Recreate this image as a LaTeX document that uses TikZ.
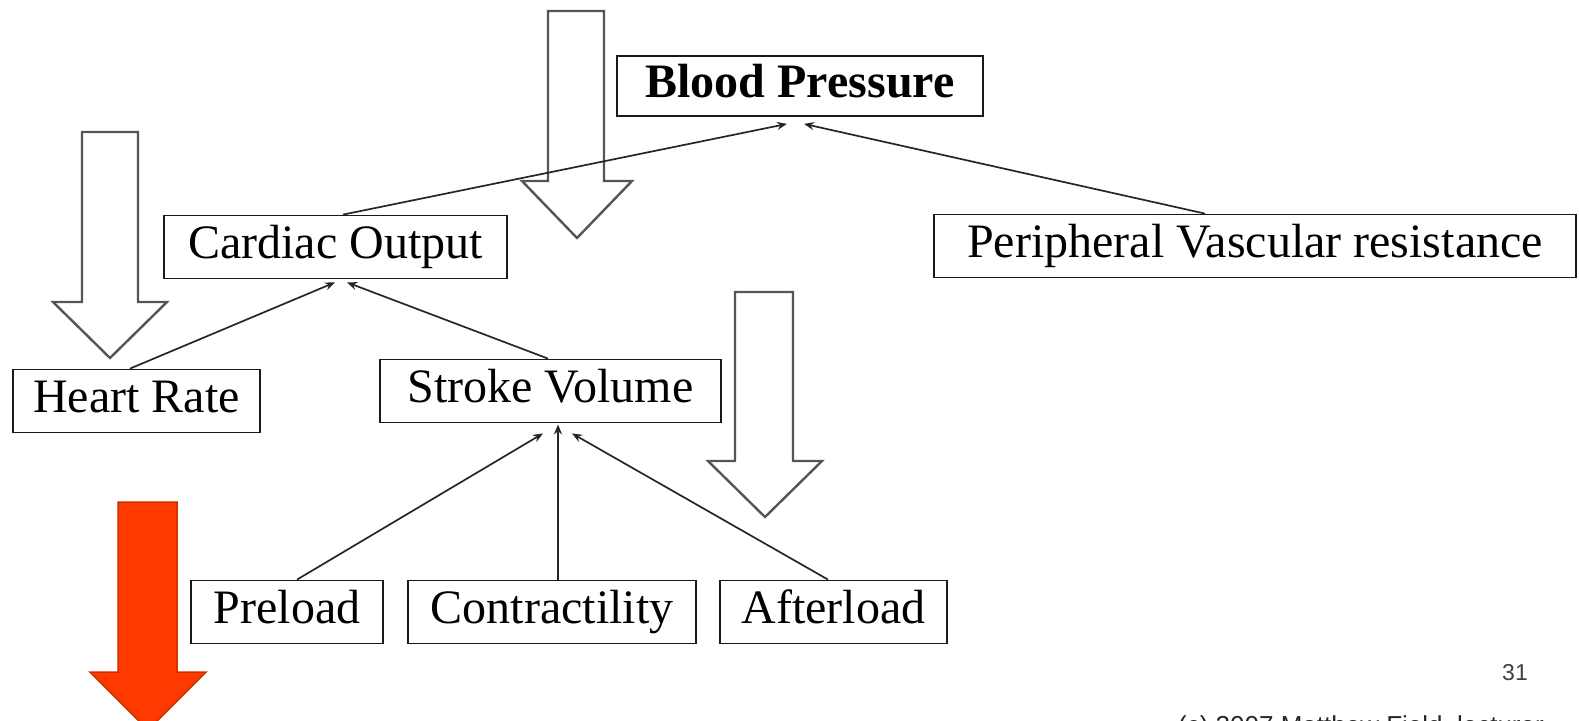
\documentclass[tikz,border=0pt]{standalone}
\usepackage{fontspec}
\setmainfont{Liberation Serif}
\newfontfamily\notefont{Liberation Sans}
\usetikzlibrary{arrows.meta}
\definecolor{arrowgray}{RGB}{85,85,85}
\definecolor{redfill}{RGB}{255,58,0}
\definecolor{redline}{RGB}{205,45,0}
\tikzset{
  box/.style={draw=black!90, line width=1.8pt, fill=white, inner xsep=0pt, inner ysep=0pt,
    minimum height=63pt, text height=33pt, text depth=10pt,
    font=\fontsize{48}{56}\selectfont},
  conn/.style={line width=1.7pt, draw=black!85, -{Stealth[length=10pt,width=8pt]}},
  hollow/.style={draw=arrowgray, line width=2.4pt, fill=white, line join=miter},
  redarrow/.style={draw=redline, line width=1.5pt, fill=redfill, line join=miter}
}
\begin{document}
\begin{tikzpicture}[x=1pt,y=-1pt]
\useasboundingbox (0,0) rectangle (1579,720);
\clip (0,0) rectangle (1579,720);
% big hollow arrows
\draw[hollow] (548,11) -- (604,11) -- (604,181) -- (632,181) -- (577,238) -- (522,181) -- (548,181) -- cycle;
\draw[hollow] (82,132) -- (138,132) -- (138,302) -- (167,302) -- (110,358) -- (53,302) -- (82,302) -- cycle;
\draw[hollow] (735,292) -- (793,292) -- (793,461) -- (822,461) -- (765,517) -- (708,461) -- (735,461) -- cycle;
\draw[redarrow] (118,502) -- (177,502) -- (177,672) -- (206,672) -- (148,730) -- (90,672) -- (118,672) -- cycle;
% nodes
\node[box, minimum width=366pt, minimum height=60pt, font=\fontsize{48}{56}\selectfont\bfseries] (bp) at (800,86) {Blood Pressure};
\node[box, minimum width=343pt] (co) at (335.5,247) {Cardiac Output};
\node[box, minimum width=642pt] (pvr) at (1255,246) {Peripheral Vascular resistance};
\node[box, minimum width=247pt] (hr) at (136.5,401) {Heart Rate};
\node[box, minimum width=341pt] (sv) at (550.5,391) {Stroke Volume};
\node[box, minimum width=192pt] (pre) at (287,612) {Preload};
\node[box, minimum width=288pt] (con) at (552,612) {Contractility};
\node[box, minimum width=227pt] (aft) at (833.5,612) {Afterload};
% connectors
\draw[conn] ([xshift=7.5pt]co.north) -- ([xshift=-13pt,yshift=-7pt]bp.south);
\draw[conn] ([xshift=-50pt]pvr.north) -- ([xshift=4pt,yshift=-7pt]bp.south);
\draw[conn] ([xshift=-6.5pt]hr.north) -- ([xshift=-0.5pt,yshift=-3pt]co.south);
\draw[conn] ([xshift=-2.5pt]sv.north) -- ([xshift=11.5pt,yshift=-3pt]co.south);
\draw[conn] ([xshift=10pt]pre.north) -- ([xshift=-7.5pt,yshift=-10pt]sv.south);
\draw[conn] ([xshift=6pt]con.north) -- ([xshift=7.5pt,yshift=-1pt]sv.south);
\draw[conn] ([xshift=-5.5pt]aft.north) -- ([xshift=21.5pt,yshift=-10pt]sv.south);
% page notes
\node[anchor=base, font=\notefont\fontsize{23}{26}\selectfont, text=black!75, inner sep=0pt] (pg) at (1515,680) {31};
\node[anchor=base west, font=\notefont\fontsize{26}{30}\selectfont, text=black!85, inner sep=0pt] (copy) at (1178,734) {(c) 2007 Matthew Field, lecturer};
\end{tikzpicture}
\end{document}
